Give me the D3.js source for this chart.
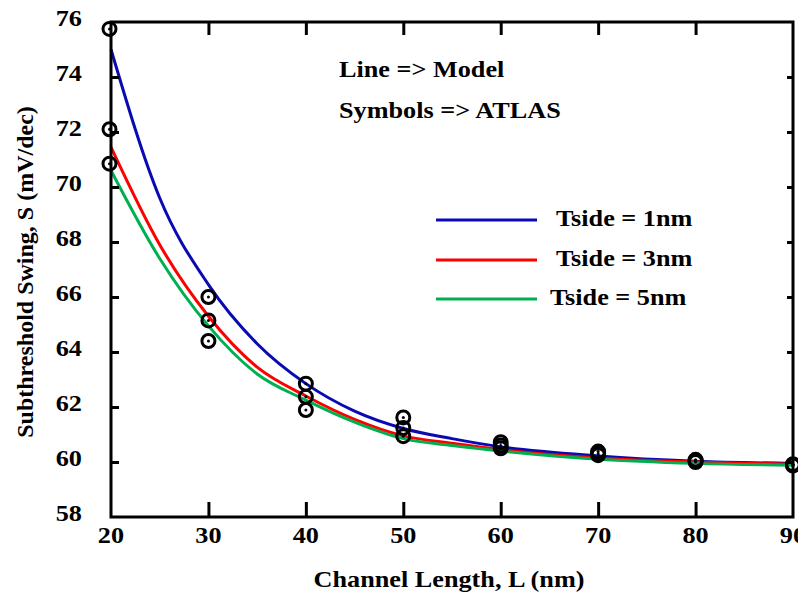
<!DOCTYPE html>
<html>
<head>
<meta charset="utf-8">
<script src="https://cdn.jsdelivr.net/npm/d3@7"></script>
<style>
body { margin: 0; background: #fff; }
svg { display: block; }
text { font-family: "Liberation Serif", "Times New Roman", serif; font-weight: bold; fill: #000; }
</style>
</head>
<body>
<svg id="chart" width="798" height="599"></svg>
<script>
// model curves (lines)
var modelL = [20, 25, 30, 35, 40, 45, 50, 55, 60, 70, 80, 90];
var model1 = [75.0, 69.6, 66.45, 64.3, 62.85, 61.85, 61.22, 60.85, 60.55, 60.22, 60.03, 59.95];
var model3 = [71.45, 67.9, 65.3, 63.45, 62.4, 61.55, 60.95, 60.68, 60.45, 60.15, 60.0, 59.92];
var model5 = [70.6, 67.4, 64.95, 63.2, 62.25, 61.45, 60.85, 60.6, 60.4, 60.1, 59.95, 59.88];

// ATLAS simulation (symbols)
var atlasL = [20, 30, 40, 50, 60, 70, 80, 90];
var atlas1 = [75.75, 66.0, 62.85, 61.62, 60.72, 60.38, 60.08, 59.92];
var atlas3 = [72.1, 65.15, 62.37, 61.24, 60.6, 60.3, 60.05, 59.9];
var atlas5 = [70.85, 64.4, 61.89, 60.94, 60.5, 60.25, 60.0, 59.87];

var seriesNames = ["Tside = 1nm", "Tside = 3nm", "Tside = 5nm"];
var seriesColors = ["#0a0ab4", "#ff0000", "#00b050"];

var xTicks = [20, 30, 40, 50, 60, 70, 80, 90];
var yTicks = [58, 60, 62, 64, 66, 68, 70, 72, 74, 76];

var svg = d3.select("#chart");

var x = d3.scaleLinear().domain([20, 90]).range([111, 793]);
var y = d3.scaleLinear().domain([58, 76]).range([517, 22]);

// the original picture is a bit wider than tall, so stretch texts sideways
var stretch = 1.14;
function widen(sel) {
    sel.each(function () {
        var len = this.getComputedTextLength();
        d3.select(this)
            .attr("textLength", len * stretch)
            .attr("lengthAdjust", "spacingAndGlyphs");
    });
}

// curves
var line = d3.line()
    .x(function (d) { return x(d[0]); })
    .y(function (d) { return y(d[1]); })
    .curve(d3.curveMonotoneX);

[model1, model3, model5].forEach(function (vals, i) {
    svg.append("path")
        .datum(modelL.map(function (l, j) { return [l, vals[j]]; }))
        .attr("d", line)
        .attr("fill", "none")
        .attr("stroke", seriesColors[i])
        .attr("stroke-width", 3);
});

// symbols
var pts = [];
[atlas1, atlas3, atlas5].forEach(function (vals) {
    atlasL.forEach(function (l, j) { pts.push([l, vals[j]]); });
});

svg.selectAll("circle.sym")
    .data(pts)
    .enter()
    .append("circle")
    .attr("class", "sym")
    .attr("cx", function (d) { return x(d[0]) - (d[0] == 20 ? 1.5 : 0); })
    .attr("cy", function (d) { return y(d[1]); })
    .attr("r", 6.5)
    .attr("fill", "none")
    .attr("stroke", "#000")
    .attr("stroke-width", 3);

svg.selectAll("circle.dot")
    .data(pts)
    .enter()
    .append("circle")
    .attr("class", "dot")
    .attr("cx", function (d) { return x(d[0]) - (d[0] == 20 ? 1.5 : 0); })
    .attr("cy", function (d) { return y(d[1]); })
    .attr("r", 1.5)
    .attr("fill", "#000");

// axes
var inner = xTicks.slice(1, -1);
var innerY = yTicks.slice(1, -1);

svg.append("g")
    .attr("transform", "translate(0," + y(58) + ")")
    .call(d3.axisTop(x).tickValues(inner).tickSize(15).tickFormat(""));
svg.append("g")
    .attr("transform", "translate(0," + y(76) + ")")
    .call(d3.axisBottom(x).tickValues(inner).tickSize(13).tickFormat(""));
svg.append("g")
    .attr("transform", "translate(" + x(20) + ",0)")
    .call(d3.axisRight(y).tickValues(innerY).tickSize(8).tickFormat(""));
svg.append("g")
    .attr("transform", "translate(" + x(90) + ",0)")
    .call(d3.axisLeft(y).tickValues(innerY).tickSize(6).tickFormat(""));

svg.selectAll(".domain").remove();
svg.selectAll(".tick line").attr("stroke", "#000").attr("stroke-width", 3);

svg.append("rect")
    .attr("x", x(20))
    .attr("y", y(76))
    .attr("width", x(90) - x(20))
    .attr("height", y(58) - y(76))
    .attr("fill", "none")
    .attr("stroke", "#000")
    .attr("stroke-width", 3);

// tick labels
svg.selectAll("text.xl")
    .data(xTicks)
    .enter()
    .append("text")
    .attr("class", "xl")
    .attr("x", function (d) { return x(d); })
    .attr("y", 543)
    .attr("text-anchor", "middle")
    .style("font-size", "23px")
    .text(function (d) { return d; })
    .call(widen);

svg.selectAll("text.yl")
    .data(yTicks)
    .enter()
    .append("text")
    .attr("class", "yl")
    .attr("x", 82)
    .attr("y", function (d) { return y(d) + 3.5; })
    .attr("text-anchor", "end")
    .style("font-size", "23px")
    .text(function (d) { return d; })
    .call(widen);

// axis titles
svg.append("text")
    .attr("x", 449)
    .attr("y", 587)
    .attr("text-anchor", "middle")
    .style("font-size", "23px")
    .text("Channel Length, L (nm)")
    .call(widen);

svg.append("text")
    .attr("transform", "translate(33,272) rotate(-90)")
    .attr("text-anchor", "middle")
    .style("font-size", "24px")
    .text("Subthreshold Swing, S (mV/dec)");

// notes
svg.append("text")
    .attr("x", 339)
    .attr("y", 77)
    .style("font-size", "23px")
    .text("Line => Model")
    .call(widen);
svg.append("text")
    .attr("x", 339)
    .attr("y", 118)
    .style("font-size", "23px")
    .text("Symbols => ATLAS")
    .call(widen);

// legend
var legY = [220, 260, 299];
seriesNames.forEach(function (name, i) {
    svg.append("line")
        .attr("x1", 436)
        .attr("x2", 537)
        .attr("y1", legY[i])
        .attr("y2", legY[i])
        .attr("stroke", seriesColors[i])
        .attr("stroke-width", 3);
    svg.append("text")
        .attr("x", i == 2 ? 550 : 556)
        .attr("y", legY[i] + 6)
        .style("font-size", "23px")
        .text(name)
        .call(widen);
});
</script>
</body>
</html>
